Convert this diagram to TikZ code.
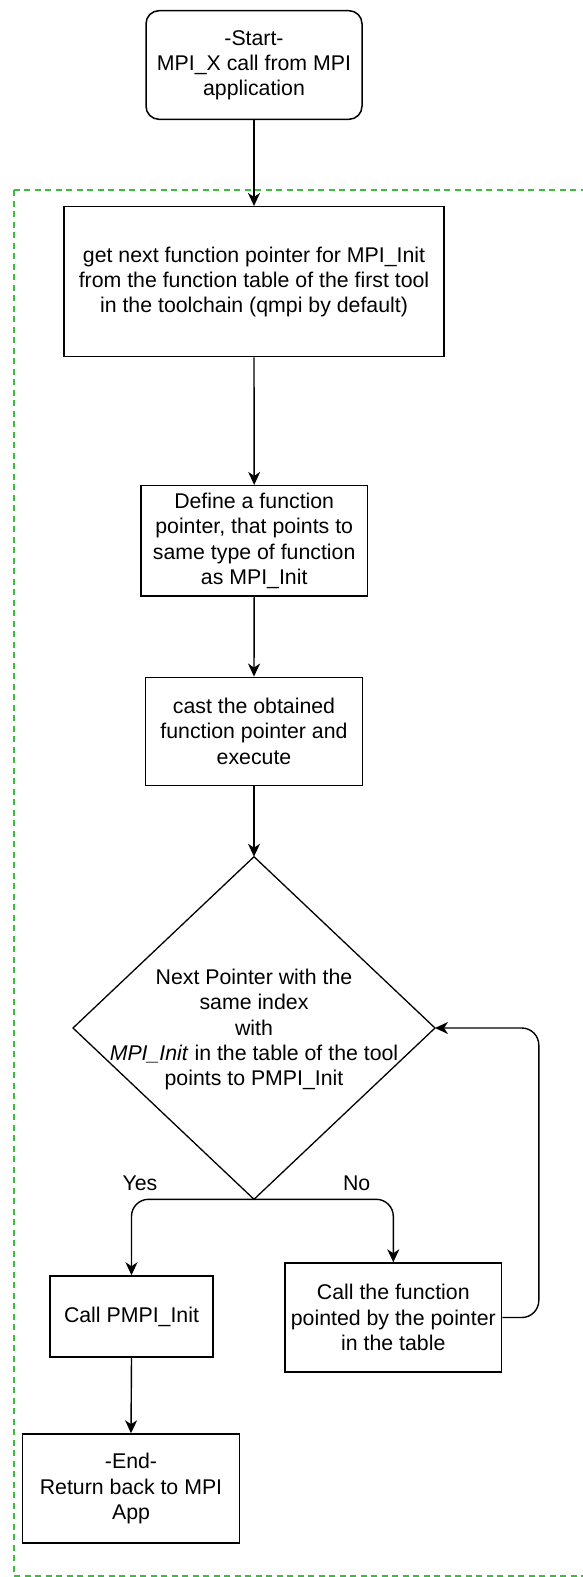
\documentclass[tikz,border=0pt]{standalone}
\usepackage{fontspec}
\setmainfont{Liberation Sans}
\usetikzlibrary{arrows.meta}
\definecolor{groupgreen}{RGB}{60,190,60}
\begin{document}
\begin{tikzpicture}[x=1pt,y=-1pt,
  every node/.style={font=\fontsize{21.3}{25.2}\selectfont, align=center, inner sep=0pt},
  procbox/.style={draw=black, line width=1.5pt, fill=white},
  startbox/.style={procbox, rounded corners=13pt},
  conn/.style={draw=black, line width=1.4pt, -{Stealth[length=13pt,width=12pt,inset=4pt]}},
  branch/.style={conn, rounded corners=17pt},
  label/.style={font=\fontsize{21.3}{25.2}\selectfont}
]
\useasboundingbox (0,0) rectangle (582,1577);

% dashed group frame (its right edge lies past the page)
\draw[groupgreen, line width=2pt, dash pattern=on 6pt off 4.5pt]
  (13.7,190) -- (600,190) (13.7,190) -- (13.7,1575.5) -- (600,1575.5);

% process steps
\node[startbox, minimum width=216pt, minimum height=108.6pt] (start) at (254,65)
  {-Start-\\MPI\_X call from MPI\\application};
\node[procbox, minimum width=380pt, minimum height=150pt] (getptr) at (254,281.7)
  {get next function pointer for MPI\_Init\\from the function table of the first tool\\in the toolchain (qmpi by default)};
\node[procbox, minimum width=226.3pt, minimum height=110.3pt] (define) at (254.2,540.8)
  {Define a function\\pointer, that points to\\same type of function\\as MPI\_Init};
\node[procbox, minimum width=217.4pt, minimum height=108pt] (cast) at (254,731.3)
  {cast the obtained\\function pointer and\\execute};

% decision
\coordinate (dtop) at (254,856.7);
\coordinate (dbot) at (254,1199.3);
\coordinate (dleft) at (73,1028);
\coordinate (dright) at (435,1028);
\draw[black, line width=1.3pt, fill=white] (dtop) -- (dright) -- (dbot) -- (dleft) -- cycle;
\node (decision) at (254,1029.5)
  {Next Pointer with the\\same index\\with\\\textit{MPI\_Init} in the table of the tool\\points to PMPI\_Init};

% outcomes
\node[procbox, minimum width=163pt, minimum height=81pt] (pmpi) at (131.5,1316.5)
  {Call PMPI\_Init};
\node[procbox, minimum width=216.7pt, minimum height=109pt] (callfn) at (393.3,1317.5)
  {Call the function\\pointed by the pointer\\in the table};
\node[procbox, minimum width=216.7pt, minimum height=109pt] (finish) at (131,1488.5)
  {-End-\\Return back to MPI\\App};

\node[label] (yes) at (140,1183) {Yes};
\node[label] (no) at (356.7,1183) {No};

% connectors
\draw[conn] (start.south) -- (getptr.north);
\draw[conn] (getptr.south) -- (define.north);
\draw[conn] (define.south) -- (cast.north);
\draw[conn] (cast.south) -- (dtop);
\draw[branch] (dbot) -| (pmpi.north);
\draw[branch] (dbot) -| (callfn.north);
\draw[branch] (callfn.east) -- ++(36.4,0) |- (dright);
\draw[conn] (pmpi.south) -- (finish.north);
\end{tikzpicture}
\end{document}
